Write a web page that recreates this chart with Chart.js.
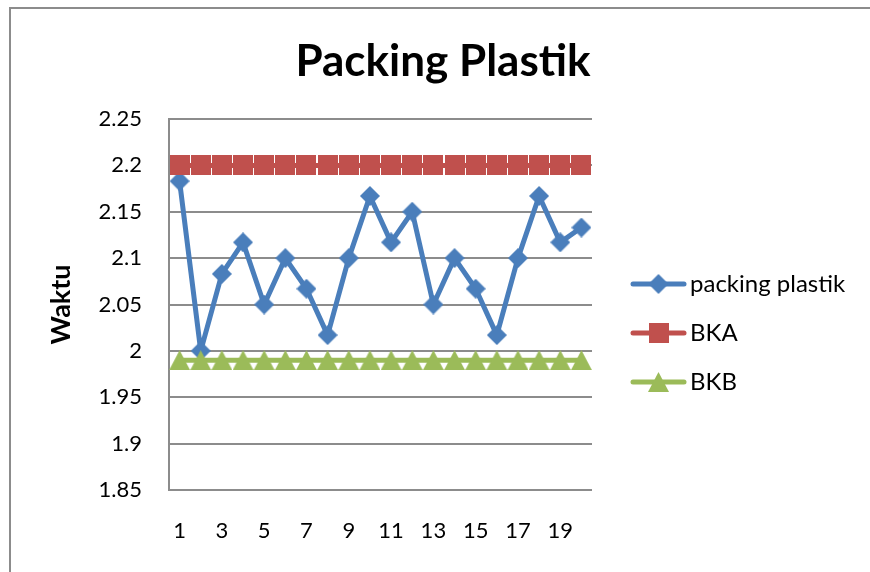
<!DOCTYPE html>
<html>
<head>
<meta charset="utf-8">
<script src="https://cdn.jsdelivr.net/npm/chart.js@4.4.0/dist/chart.umd.min.js"></script>
<style>
  html, body { margin: 0; padding: 0; background: #ffffff; }
  #wrap { width: 870px; height: 572px; }
</style>
</head>
<body>
<div id="wrap"><canvas id="c" width="870" height="572"></canvas></div>
<script>
const categories = ['1','2','3','4','5','6','7','8','9','10','11','12','13','14','15','16','17','18','19','20'];
const packingPlastik = [2.183, 2.0, 2.083, 2.117, 2.05, 2.1, 2.067, 2.017, 2.1, 2.167, 2.117, 2.15, 2.05, 2.1, 2.067, 2.017, 2.1, 2.167, 2.117, 2.133];
const bka = [2.2, 2.2, 2.2, 2.2, 2.2, 2.2, 2.2, 2.2, 2.2, 2.2, 2.2, 2.2, 2.2, 2.2, 2.2, 2.2, 2.2, 2.2, 2.2, 2.2];
const bkb = [1.99, 1.99, 1.99, 1.99, 1.99, 1.99, 1.99, 1.99, 1.99, 1.99, 1.99, 1.99, 1.99, 1.99, 1.99, 1.99, 1.99, 1.99, 1.99, 1.99];
const yTickLabels = ['1.85', '1.9', '1.95', '2', '2.05', '2.1', '2.15', '2.2', '2.25'];
const seriesNames = ['packing plastik', 'BKA', 'BKB'];
const chartTitle = 'Packing Plastik';
const yAxisTitle = 'Waktu';

const BLUE = '#4a7ebb', RED = '#c0504d', GREEN = '#9bbb59';
const FONT = 'Lato, "Open Sans", sans-serif';

function makeDiamond(color) {
  const c = document.createElement('canvas'); c.width = 20; c.height = 20;
  const g = c.getContext('2d'); g.fillStyle = color;
  g.beginPath(); g.moveTo(10, 0); g.lineTo(20, 10); g.lineTo(10, 20); g.lineTo(0, 10); g.closePath(); g.fill();
  return c;
}
function makeSquare(color) {
  const c = document.createElement('canvas'); c.width = 20; c.height = 20;
  const g = c.getContext('2d'); g.fillStyle = color; g.fillRect(0, 0, 20, 20);
  return c;
}
function makeTriangle(color) {
  const c = document.createElement('canvas'); c.width = 21; c.height = 20;
  const g = c.getContext('2d'); g.fillStyle = color;
  g.beginPath(); g.moveTo(0, 20); g.lineTo(10.5, 0); g.lineTo(21, 20); g.closePath(); g.fill();
  return c;
}
const markers = [makeDiamond(BLUE), makeSquare(RED), makeTriangle(GREEN)];
const colors = [BLUE, RED, GREEN];

const framePlugin = {
  id: 'frame',
  beforeDraw(chart) {
    const ctx = chart.ctx;
    ctx.save();
    ctx.fillStyle = '#ffffff';
    ctx.fillRect(0, 0, chart.width, chart.height);
    ctx.strokeStyle = '#8c8c8c';
    ctx.lineWidth = 2;
    ctx.strokeRect(10, 8, chart.width + 20, chart.height + 20);
    // chart title
    ctx.fillStyle = '#000';
    ctx.font = 'bold 44px ' + FONT;
    ctx.textAlign = 'center';
    ctx.textBaseline = 'alphabetic';
    ctx.fillText(chartTitle, 443, 76);
    ctx.restore();
  },
  afterDraw(chart) {
    const ctx = chart.ctx;
    const ys = [284, 333, 382];
    ctx.save();
    chart.data.datasets.forEach((ds, i) => {
      const y = ys[i];
      ctx.strokeStyle = colors[i];
      ctx.lineWidth = 5;
      ctx.lineCap = 'round';
      ctx.beginPath(); ctx.moveTo(633, y); ctx.lineTo(684, y); ctx.stroke();
      const m = markers[i];
      ctx.drawImage(m, 658.5 - m.width / 2, y - m.height / 2);
      ctx.fillStyle = '#000';
      ctx.font = '24px ' + FONT;
      ctx.textAlign = 'left';
      ctx.textBaseline = 'middle';
      ctx.fillText(ds.label, 690, y);
    });
    ctx.restore();
  }
};

new Chart(document.getElementById('c'), {
  type: 'line',
  data: {
    labels: categories,
    datasets: [
      { label: seriesNames[0], data: packingPlastik, borderColor: BLUE, backgroundColor: BLUE, borderWidth: 5,
        pointStyle: markers[0], order: 3, borderCapStyle: 'round', borderJoinStyle: 'round', tension: 0 },
      { label: seriesNames[1], data: bka, borderColor: RED, backgroundColor: RED, borderWidth: 5,
        pointStyle: markers[1], order: 2, tension: 0 },
      { label: seriesNames[2], data: bkb, borderColor: GREEN, backgroundColor: GREEN, borderWidth: 5,
        pointStyle: markers[2], order: 1, tension: 0 }
    ]
  },
  options: {
    responsive: false,
    animation: false,
    devicePixelRatio: 1,
    layout: { padding: { left: 16, right: 278, top: 119, bottom: 0 } },
    plugins: {
      legend: { display: false },
      tooltip: { enabled: false },
      title: { display: false }
    },
    scales: {
      x: {
        offset: true,
        grid: { display: false, drawTicks: false },
        border: { display: false },
        ticks: {
          autoSkip: false, maxRotation: 0, color: '#000', padding: 28,
          font: { family: FONT, size: 22 },
          callback: function(v, i) { return i % 2 === 0 ? categories[i] : ''; }
        },
        afterFit(scale) { scale.height = 82; }
      },
      y: {
        min: 1.85, max: 2.25,
        grid: { color: '#8c8c8c', lineWidth: 2, drawTicks: false },
        border: { display: true, color: '#8c8c8c', width: 2 },
        ticks: {
          stepSize: 0.05, color: '#000', padding: 27,
          font: { family: FONT, size: 22 },
          callback: function(v, i) { return yTickLabels[i]; }
        },
        title: {
          display: true, text: yAxisTitle, color: '#000',
          font: { family: FONT, size: 27, weight: 'bold' },
          padding: { top: 29, bottom: 0 }
        },
        afterFit(scale) { scale.width = 153; }
      }
    }
  },
  plugins: [framePlugin]
});
</script>
</body>
</html>
